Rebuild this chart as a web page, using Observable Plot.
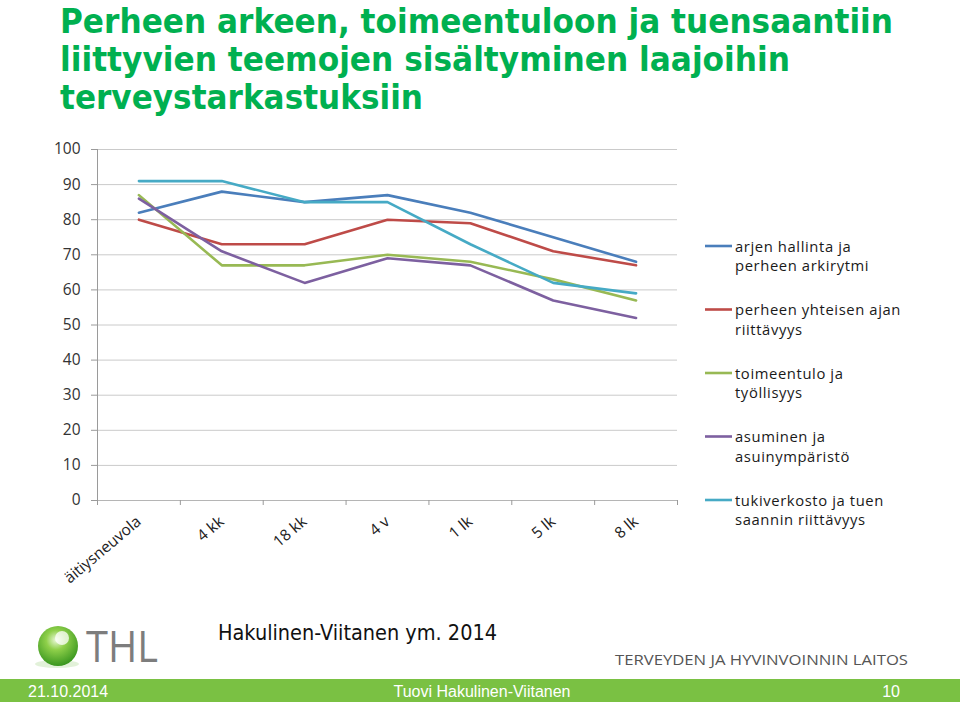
<!DOCTYPE html>
<html><head><meta charset="utf-8">
<script src="https://cdn.jsdelivr.net/npm/d3@7"></script>
<script src="https://cdn.jsdelivr.net/npm/@observablehq/plot@0.6"></script>
<style>
body{margin:0;background:#fff;}
#page{position:relative;width:960px;height:702px;overflow:hidden;background:#fff;font-family:"Open Sans",sans-serif;}
.abs{position:absolute;left:0;top:0;}
#footer{position:absolute;left:0;top:679px;width:960px;height:23px;background:#7ac143;}
</style></head><body><div id="page"></div>
<script>
// ---- data ----
const titleLines = ["Perheen arkeen, toimeentuloon ja tuensaantiin", "liittyvien teemojen sisältyminen laajoihin", "terveystarkastuksiin"];
const categories = ["äitiysneuvola", "4 kk", "18 kk", "4 v", "1 lk", "5 lk", "8 lk"];
const seriesNames = ["arjen hallinta ja perheen arkirytmi", "perheen yhteisen ajan riittävyys", "toimeentulo ja työllisyys", "asuminen ja asuinympäristö", "tukiverkosto ja tuen saannin riittävyys"];
const legendLines = [["arjen hallinta ja", "perheen arkirytmi"], ["perheen yhteisen ajan", "riittävyys"], ["toimeentulo ja", "työllisyys"], ["asuminen ja", "asuinympäristö"], ["tukiverkosto ja tuen", "saannin riittävyys"]];
const arjenHallinta = [82, 88, 85, 87, 82, 75, 68];
const yhteinenAika = [80, 73, 73, 80, 79, 71, 67];
const toimeentulo = [87, 67, 67, 70, 68, 63, 57];
const asuminen = [86, 71, 62, 69, 67, 57, 52];
const tukiverkosto = [91, 91, 85, 85, 73, 62, 59];
const seriesColors = ["#4a7ebb", "#be4b48", "#98b954", "#7d60a0", "#46aac5"];
const yTicks = d3.range(0, 101, 10);
const sourceText = "Hakulinen-Viitanen ym. 2014";
const orgText = "TERVEYDEN JA HYVINVOINNIN LAITOS";
const footerDate = "21.10.2014", footerAuthor = "Tuovi Hakulinen-Viitanen", footerPage = "10";

const seriesValues = [arjenHallinta, yhteinenAika, toimeentulo, asuminen, tukiverkosto];
const data = seriesNames.flatMap((s, j) => seriesValues[j].map((v, i) => ({series: s, category: categories[i], pos: i + 0.5, value: v})));

const page = document.getElementById("page");
const NS = "http://www.w3.org/2000/svg";
function svgEl(tag, attrs, parent) {
  const e = document.createElementNS(NS, tag);
  for (const k in attrs) e.setAttribute(k, attrs[k]);
  if (parent) parent.appendChild(e);
  return e;
}

// ---- title ----
const tsvg = svgEl("svg", {width: 960, height: 125, class: "abs"});
page.appendChild(tsvg);
const titleWidths = [833, 730, 363];
titleLines.forEach((t, i) => {
  const tx = svgEl("text", {x: 60, y: 33 + i * 38, "font-family": "DejaVu Sans", "font-weight": "bold", "font-size": 33, fill: "#00b050", textLength: titleWidths[i], lengthAdjust: "spacingAndGlyphs"}, tsvg);
  tx.textContent = t;
});

// ---- chart ----
const chart = Plot.plot({
  width: 700, height: 470,
  marginLeft: 97, marginRight: 23, marginTop: 19, marginBottom: 100,
  style: {fontFamily: '"Open Sans", sans-serif', fontSize: "15px", color: "#333", background: "transparent", overflow: "visible"},
  x: {type: "linear", domain: [0, categories.length], label: null},
  y: {domain: [0, 100], label: null},
  color: {domain: seriesNames, range: seriesColors},
  marks: [
    Plot.gridY(yTicks, {stroke: "#cacaca", strokeOpacity: 1, strokeWidth: 1}),
    Plot.axisY(yTicks, {tickSize: 6, tickPadding: 11, stroke: "#9a9a9a", fill: "#333", fontSize: 15.5, label: null}),
    Plot.ruleX([0], {stroke: "#9a9a9a"}),
    Plot.ruleY([0], {stroke: "#b5b5b5"}),
    Plot.axisX(d3.range(categories.length + 1), {tickSize: 5, tickFormat: () => "", stroke: "#9a9a9a", label: null}),
    Plot.axisX(categories.map((c, i) => i + 0.5), {tickSize: 0, tickPadding: 19, tickRotate: -40, tickFormat: v => categories[Math.round(v - 0.5)], fill: "#222", fontSize: 15.5, label: null}),
    Plot.line(data, {x: "pos", y: "value", stroke: "series", z: "series", strokeWidth: 2.6})
  ]
});
chart.style.position = "absolute";
chart.style.left = "0px";
chart.style.top = "130px";
page.appendChild(chart);

// ---- legend ----
const lsvg = svgEl("svg", {width: 260, height: 320, class: "abs", style: "left:700px;top:220px"});
page.appendChild(lsvg);
seriesNames.forEach((s, i) => {
  const ly = 26 + i * 63.5;
  svgEl("line", {x1: 5, x2: 32, y1: ly, y2: ly, stroke: seriesColors[i], "stroke-width": 2.6}, lsvg);
  legendLines[i].forEach((t, k) => {
    const tx = svgEl("text", {x: 35, y: ly + 5.5 + k * 19.5, "font-family": "Open Sans", "font-size": 14.8, fill: "#1a1a1a", "letter-spacing": 0.6}, lsvg);
    tx.textContent = t;
  });
});

// ---- bottom: logo, source, org ----
const bsvg = svgEl("svg", {width: 960, height: 80, class: "abs", style: "top:600px"});
page.appendChild(bsvg);
const defs = svgEl("defs", {}, bsvg);
const rg = svgEl("radialGradient", {id: "orb", cx: "0.45", cy: "0.35", r: "0.7"}, defs);
svgEl("stop", {offset: "0", "stop-color": "#e9f8d8"}, rg);
svgEl("stop", {offset: "0.35", "stop-color": "#8fd04a"}, rg);
svgEl("stop", {offset: "1", "stop-color": "#2f8f1a"}, rg);
svgEl("ellipse", {cx: 57, cy: 64, rx: 22, ry: 4, fill: "#cfe8bf", opacity: 0.6}, bsvg);
svgEl("circle", {cx: 58, cy: 46, r: 20, fill: "url(#orb)"}, bsvg);
svgEl("circle", {cx: 62, cy: 38, r: 7, fill: "#ffffff", opacity: 0.75}, bsvg);
const thl = svgEl("text", {x: 86, y: 62, "font-family": "Open Sans", "font-size": 43, fill: "#7d7d7d", textLength: 72, lengthAdjust: "spacingAndGlyphs"}, bsvg);
thl.textContent = "THL";
const src = svgEl("text", {x: 218, y: 40, "font-family": "DejaVu Sans Condensed, DejaVu Sans", "font-size": 21, fill: "#111", textLength: 279, lengthAdjust: "spacingAndGlyphs"}, bsvg);
src.textContent = sourceText;
const org = svgEl("text", {x: 615, y: 65, "font-family": "Open Sans", "font-size": 14.5, fill: "#555", textLength: 293, lengthAdjust: "spacingAndGlyphs"}, bsvg);
org.textContent = orgText;

// ---- footer bar ----
const footer = document.createElement("div");
footer.id = "footer";
page.appendChild(footer);
const fsvg = svgEl("svg", {width: 960, height: 23}, null);
footer.appendChild(fsvg);
[[28, footerDate, "start"], [482, footerAuthor, "middle"], [900, footerPage, "end"]].forEach(([x, t, a]) => {
  const tx = svgEl("text", {x: x, y: 18, "font-family": "Liberation Sans Narrow, Liberation Sans", "font-size": 16, fill: "#fff", "text-anchor": a}, fsvg);
  tx.textContent = t;
});
</script></body></html>
